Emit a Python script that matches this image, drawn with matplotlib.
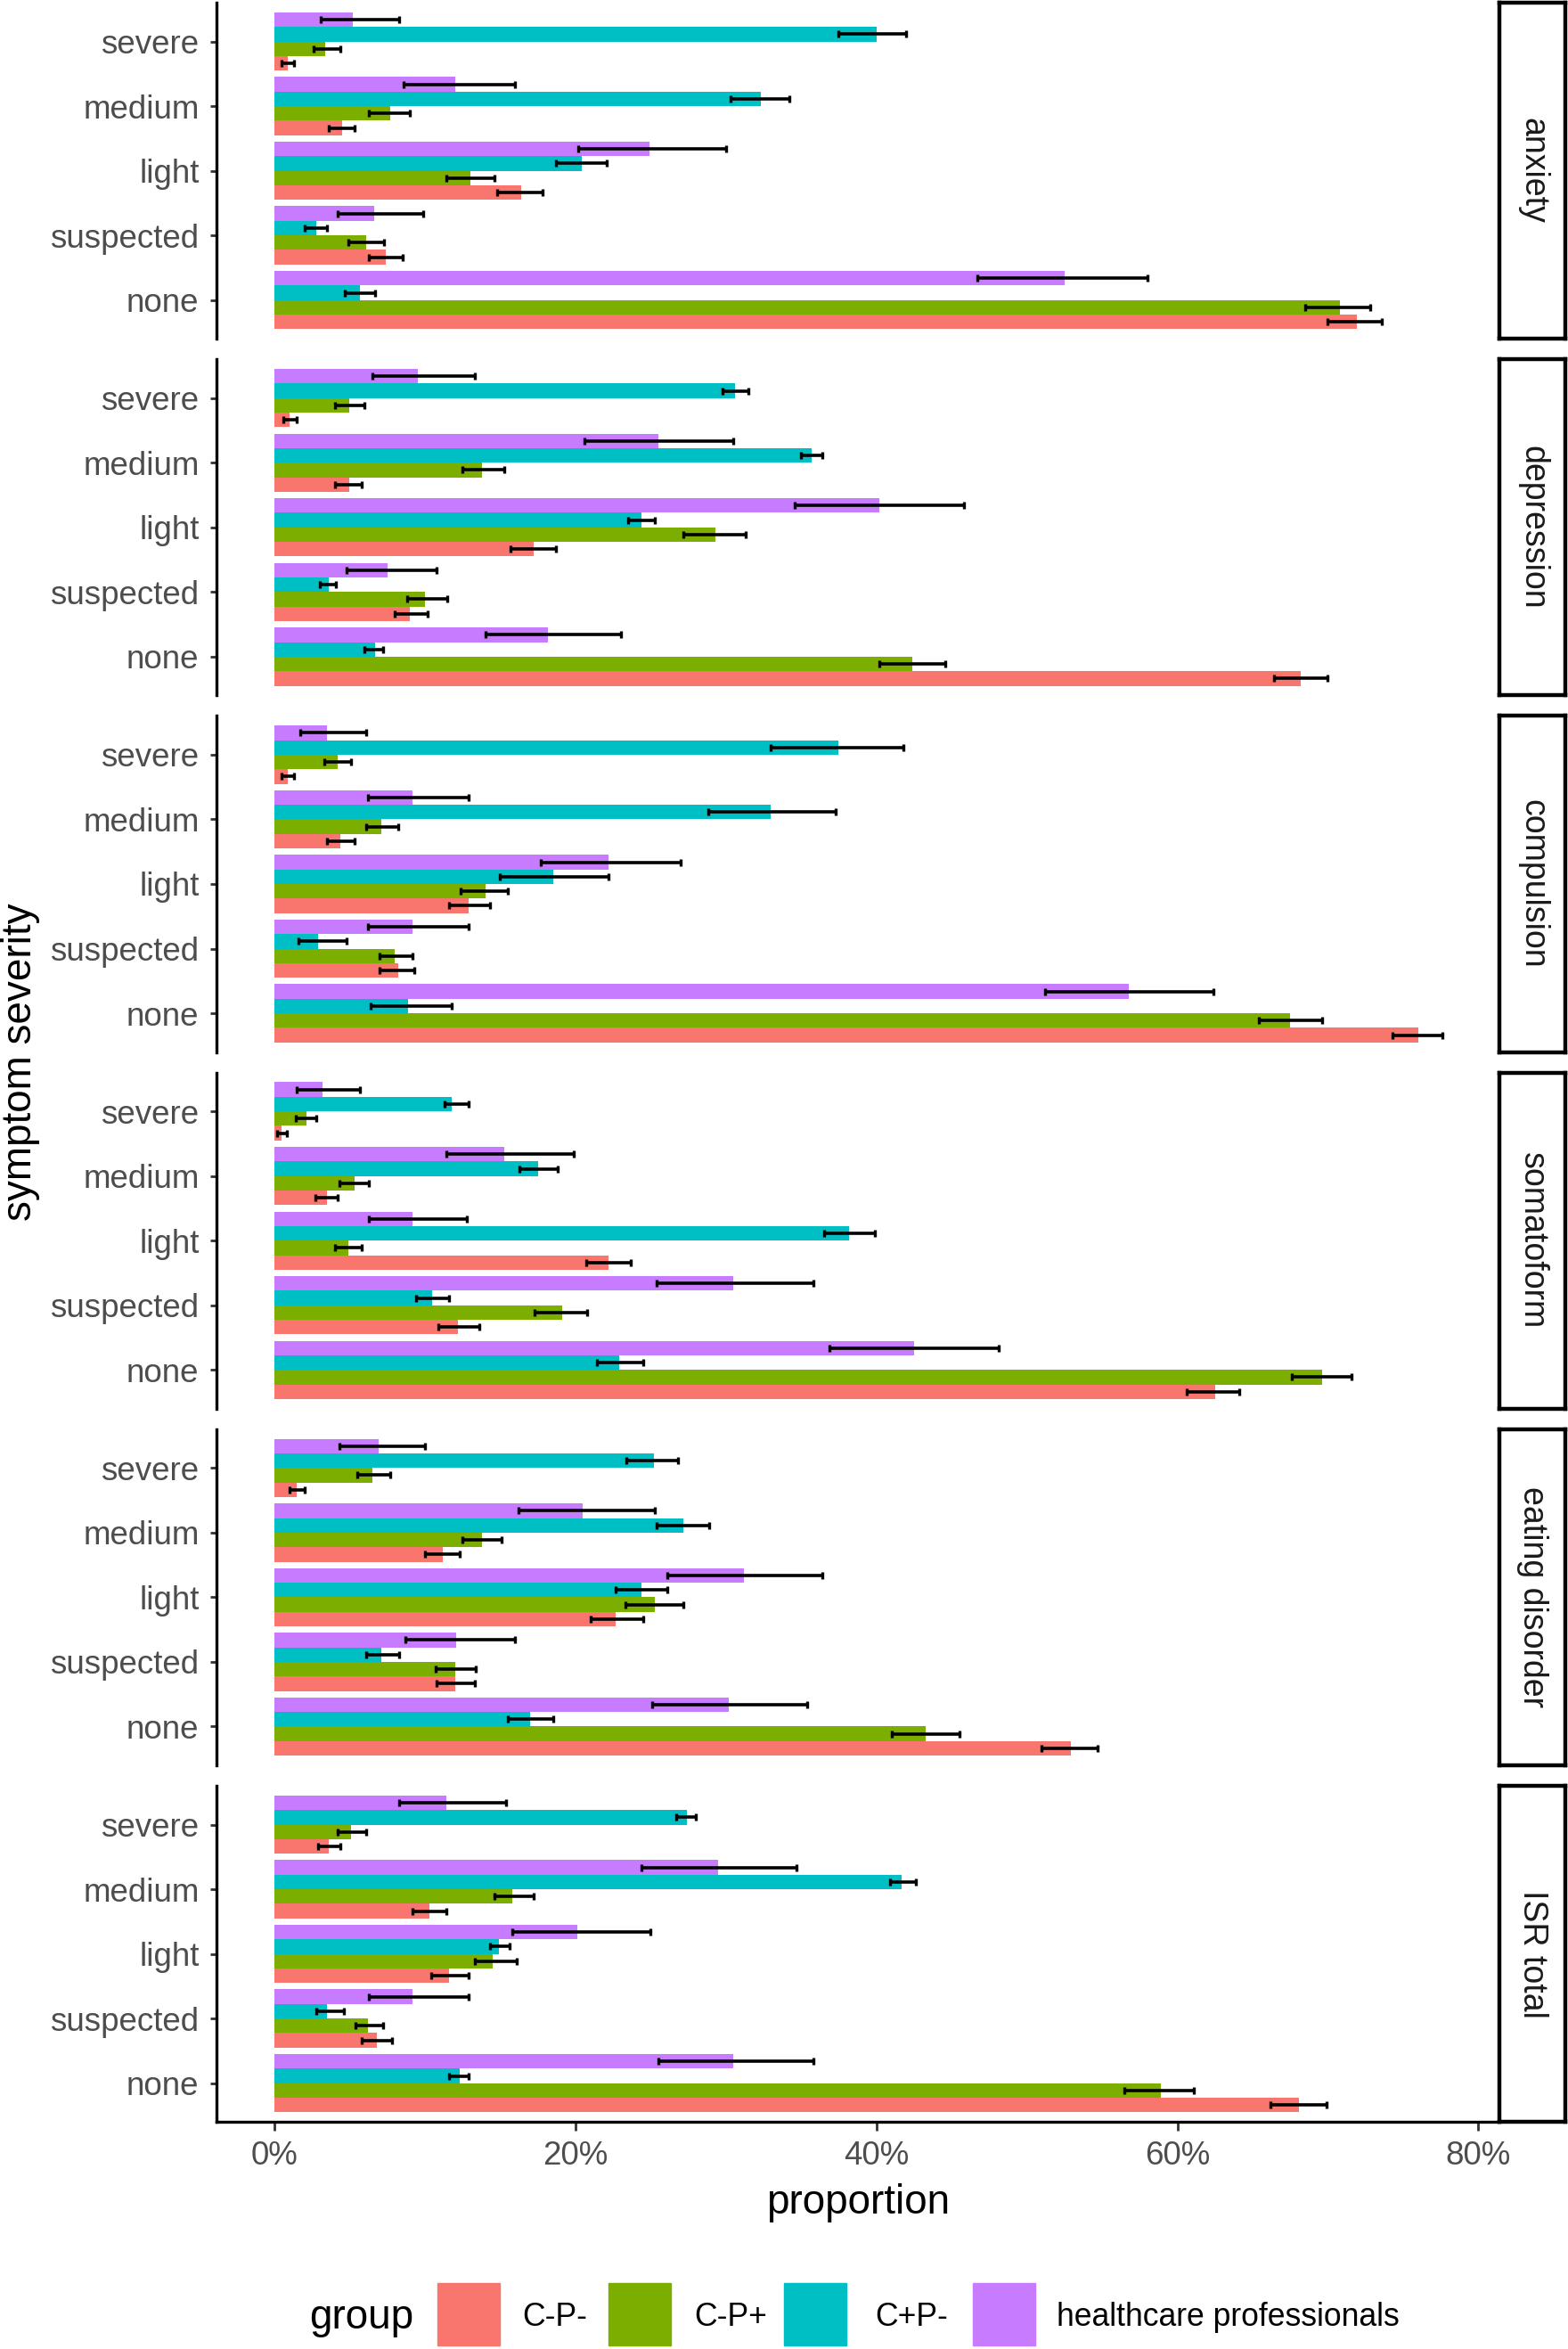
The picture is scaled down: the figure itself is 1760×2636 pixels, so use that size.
import numpy as np
import matplotlib.pyplot as plt
from matplotlib.patches import Rectangle

plt.rcParams['font.family'] = ['Liberation Sans', 'DejaVu Sans']

W, H = 1760, 2636

facets = ['anxiety', 'depression', 'compulsion', 'somatoform', 'eating disorder', 'ISR total']
levels = ['none', 'suspected', 'light', 'medium', 'severe']
groups = ['C-P-', 'C-P+', 'C+P-', 'healthcare professionals']
colors = ['#F8766D', '#7CAE00', '#00BFC4', '#C77CFF']

# proportions in %, levels in order none, suspected, light, medium, severe
# each facet: [group] -> (value, lower, upper)
anxiety = {
    'C-P-': ([71.9, 7.4, 16.4, 4.5, 0.9], [70.0, 6.3, 14.8, 3.6, 0.5], [73.6, 8.5, 17.8, 5.3, 1.3]),
    'C-P+': ([70.8, 6.1, 13.0, 7.7, 3.4], [68.5, 4.9, 11.4, 6.3, 2.6], [72.8, 7.3, 14.6, 9.0, 4.4]),
    'C+P-': ([5.7, 2.8, 20.4, 32.3, 40.0], [4.7, 2.0, 18.7, 30.3, 37.5], [6.7, 3.5, 22.1, 34.2, 42.0]),
    'healthcare professionals': ([52.5, 6.6, 24.9, 12.0, 5.2], [46.7, 4.2, 20.2, 8.6, 3.1], [58.0, 9.9, 30.0, 16.0, 8.3]),
}
depression = {
    'C-P-': ([68.2, 9.0, 17.2, 5.0, 1.0], [66.4, 8.0, 15.7, 4.0, 0.6], [70.0, 10.2, 18.7, 5.8, 1.5]),
    'C-P+': ([42.4, 10.0, 29.3, 13.8, 5.0], [40.2, 8.8, 27.2, 12.5, 4.0], [44.6, 11.5, 31.3, 15.3, 6.0]),
    'C+P-': ([6.7, 3.6, 24.4, 35.7, 30.6], [6.0, 3.0, 23.5, 35.0, 29.8], [7.2, 4.1, 25.3, 36.4, 31.5]),
    'healthcare professionals': ([18.2, 7.5, 40.2, 25.5, 9.5], [14.0, 4.8, 34.6, 20.6, 6.5], [23.0, 10.8, 45.8, 30.5, 13.3]),
}
compulsion = {
    'C-P-': ([76.0, 8.2, 12.9, 4.4, 0.9], [74.3, 7.0, 11.6, 3.5, 0.5], [77.6, 9.3, 14.3, 5.3, 1.3]),
    'C-P+': ([67.5, 8.0, 14.0, 7.1, 4.2], [65.4, 7.0, 12.4, 6.1, 3.3], [69.6, 9.2, 15.5, 8.2, 5.1]),
    'C+P-': ([8.9, 2.9, 18.5, 33.0, 37.5], [6.4, 1.6, 15.0, 28.8, 33.0], [11.8, 4.8, 22.2, 37.3, 41.8]),
    'healthcare professionals': ([56.8, 9.2, 22.2, 9.2, 3.5], [51.2, 6.2, 17.7, 6.2, 1.7], [62.4, 12.9, 27.0, 12.9, 6.1]),
}
somatoform = {
    'C-P-': ([62.5, 12.2, 22.2, 3.5, 0.5], [60.6, 10.9, 20.7, 2.7, 0.2], [64.1, 13.6, 23.7, 4.2, 0.8]),
    'C-P+': ([69.6, 19.1, 4.9, 5.3, 2.1], [67.6, 17.3, 4.0, 4.3, 1.4], [71.6, 20.8, 5.8, 6.3, 2.8]),
    'C+P-': ([22.9, 10.5, 38.2, 17.5, 11.8], [21.4, 9.4, 36.5, 16.3, 11.3], [24.5, 11.6, 39.9, 18.8, 12.9]),
    'healthcare professionals': ([42.5, 30.5, 9.2, 15.3, 3.2], [36.9, 25.4, 6.3, 11.4, 1.5], [48.1, 35.8, 12.8, 19.9, 5.7]),
}
eating = {
    'C-P-': ([52.9, 12.0, 22.7, 11.2, 1.5], [51.0, 10.8, 21.0, 10.0, 1.0], [54.7, 13.3, 24.5, 12.3, 2.0]),
    'C-P+': ([43.3, 12.0, 25.3, 13.8, 6.5], [41.0, 10.7, 23.3, 12.5, 5.5], [45.5, 13.4, 27.2, 15.1, 7.7]),
    'C+P-': ([17.0, 7.1, 24.4, 27.2, 25.2], [15.5, 6.1, 22.7, 25.4, 23.4], [18.5, 8.3, 26.1, 28.9, 26.8]),
    'healthcare professionals': ([30.2, 12.1, 31.2, 20.5, 6.9], [25.1, 8.7, 26.1, 16.2, 4.3], [35.4, 16.0, 36.4, 25.3, 10.0]),
}
isr_total = {
    'C-P-': ([68.1, 6.8, 11.6, 10.3, 3.6], [66.2, 5.8, 10.4, 9.2, 2.9], [69.9, 7.8, 12.9, 11.4, 4.4]),
    'C-P+': ([58.9, 6.2, 14.5, 15.8, 5.1], [56.5, 5.4, 13.3, 14.6, 4.2], [61.1, 7.2, 16.1, 17.2, 6.1]),
    'C+P-': ([12.3, 3.5, 14.9, 41.7, 27.4], [11.6, 2.8, 14.3, 40.9, 26.7], [12.9, 4.6, 15.6, 42.6, 28.0]),
    'healthcare professionals': ([30.5, 9.2, 20.1, 29.5, 11.4], [25.5, 6.3, 15.8, 24.4, 8.3], [35.8, 12.9, 25.0, 34.7, 15.4]),
}
data = [anxiety, depression, compulsion, somatoform, eating, isr_total]

xticks = [0, 20, 40, 60, 80]
xticklabels = ['0%', '20%', '40%', '60%', '80%']

fig = plt.figure(figsize=(W / 100, H / 100), dpi=100)

left, right = 243, 1683
strip_w = 74
top0, ph, gap = 3, 377.2, 23.0
bw = 0.225
offs = [-1.5 * bw, -0.5 * bw, 0.5 * bw, 1.5 * bw]
y = np.arange(len(levels))

for i, (name, d) in enumerate(zip(facets, data)):
    top = top0 + i * (ph + gap)
    ax = fig.add_axes([left / W, 1 - (top + ph) / H, (right - left) / W, ph / H])
    for g, col, off in zip(groups, colors, offs):
        val, lo, hi = (np.array(a) for a in d[g])
        ax.barh(y + off, val, height=bw, color=col, linewidth=0)
        ax.errorbar(val, y + off, xerr=[val - lo, hi - val], fmt='none',
                    ecolor='black', elinewidth=2.6, capsize=2.6, capthick=2.4)
    ax.set_xlim(-3.85, 81.4)
    ax.set_ylim(-0.6, 4.6)
    ax.set_yticks(y)
    ax.set_yticklabels(levels)
    for s in ['top', 'right']:
        ax.spines[s].set_visible(False)
    ax.spines['left'].set_linewidth(2.4)
    ax.tick_params(axis='y', length=5, width=2, color='#333333', pad=9,
                   labelsize=26.5, labelcolor='#4D4D4D')
    if i < len(facets) - 1:
        ax.spines['bottom'].set_visible(False)
        ax.set_xticks([])
    else:
        ax.spines['bottom'].set_linewidth(2.4)
        ax.set_xticks(xticks)
        ax.set_xticklabels(xticklabels)
        ax.tick_params(axis='x', length=7, width=2, color='#333333', pad=8,
                       labelsize=26.5, labelcolor='#4D4D4D')
    # facet strip
    sx = fig.add_axes([right / W, 1 - (top + ph) / H, strip_w / W, ph / H])
    sx.set_xticks([])
    sx.set_yticks([])
    for s in sx.spines.values():
        s.set_linewidth(3.2)
        s.set_color('black')
    sx.text(0.5, 0.5, name, rotation=270, ha='center', va='center',
            fontsize=27, color='#1A1A1A', transform=sx.transAxes)

fig.text(23 / W, 1 - 1192 / H, 'symptom severity', rotation=90, ha='center',
         va='center', fontsize=33)
fig.text(963 / W, 1 - 2472 / H, 'proportion', ha='center', va='center', fontsize=33)

# legend
ly = 2597
fig.text(347 / W, 1 - (ly + 4) / H, 'group', ha='left', va='center', fontsize=33)
key_x = [491, 683, 880, 1092]
text_x = [586, 779, 982, 1186]
for kx, tx, g, col in zip(key_x, text_x, groups, colors):
    fig.patches.append(Rectangle((kx / W, 1 - (ly + 35) / H), 70 / W, 70 / H,
                                 transform=fig.transFigure, color=col, figure=fig))
    fig.text(tx / W, 1 - (ly + 4) / H, g, ha='left', va='center', fontsize=25.6)

fig.savefig('out.png', dpi=100)
